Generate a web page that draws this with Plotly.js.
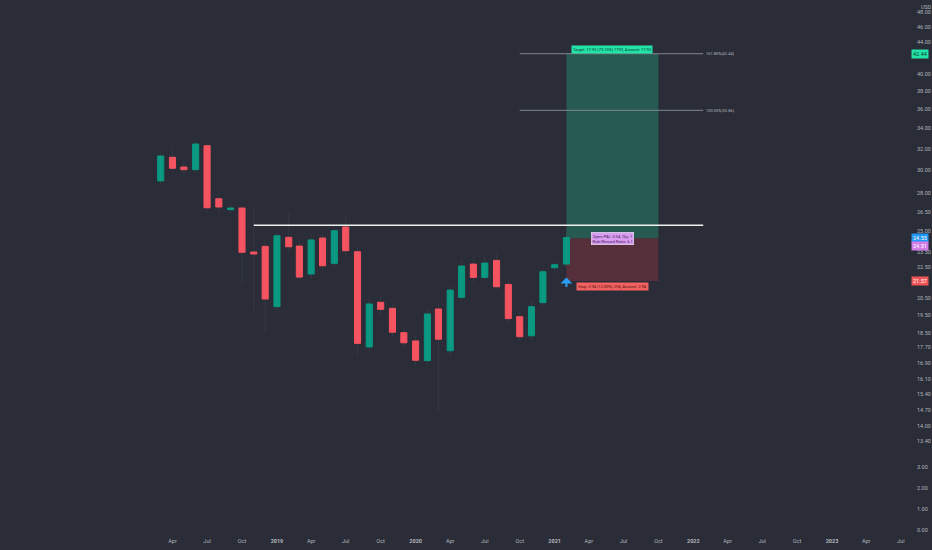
<!DOCTYPE html>
<html>
<head>
<meta charset="utf-8">
<script src="https://cdn.plot.ly/plotly-3.0.1.min.js"></script>
<style>
  html, body { margin: 0; padding: 0; background: #2a2d37; }
  #chart { width: 932px; height: 550px; }
</style>
</head>
<body>
<div id="chart"></div>
<script>
// monthly candles
const months = [
    "2018-03-01", "2018-04-01", "2018-05-01", "2018-06-01", "2018-07-01", "2018-08-01",
    "2018-09-01", "2018-10-01", "2018-11-01", "2018-12-01", "2019-01-01", "2019-02-01",
    "2019-03-01", "2019-04-01", "2019-05-01", "2019-06-01", "2019-07-01", "2019-08-01",
    "2019-09-01", "2019-10-01", "2019-11-01", "2019-12-01", "2020-01-01", "2020-02-01",
    "2020-03-01", "2020-04-01", "2020-05-01", "2020-06-01", "2020-07-01", "2020-08-01",
    "2020-09-01", "2020-10-01", "2020-11-01", "2020-12-01", "2021-01-01", "2021-02-01",
];
const open = [
    29.06, 31.18, 30.29, 30.05, 32.28, 27.56, 26.68, 26.81, 23.52, 23.92, 19.99, 24.57,
    23.94, 22.03, 24.52, 22.74, 25.34, 23.54, 17.73, 20.25, 19.89, 18.5, 18.05, 17.02,
    19.85, 17.53, 20.55, 22.69, 21.81, 22.94, 21.36, 19.4, 18.33, 20.23, 22.45, 22.69,
];
const high = [
    31.6, 31.9, 30.8, 33.0, 32.6, 27.9, 27.2, 27.0, 27.05, 24.3, 25.0, 26.42,
    24.3, 24.8, 24.8, 25.3, 26.27, 23.8, 20.6, 20.6, 20.2, 18.8, 18.4, 19.9,
    20.3, 21.3, 23.0, 23.3, 23.2, 23.4, 21.6, 19.8, 20.3, 22.4, 22.9, 24.9,
];
const low = [
    28.8, 29.9, 29.6, 29.9, 26.5, 26.5, 26.3, 21.3, 19.69, 18.55, 19.7, 23.6,
    21.5, 21.7, 22.2, 22.4, 23.3, 17.31, 17.5, 19.5, 18.3, 17.7, 16.8, 16.8,
    14.6, 17.2, 20.3, 21.5, 21.5, 21.0, 19.0, 18.0, 18.1, 20.0, 22.1, 22.5,
];
const close = [
    31.3, 30.18, 30.05, 32.44, 26.83, 26.89, 26.81, 23.5, 23.38, 20.45, 24.69, 23.89,
    21.83, 24.38, 22.58, 25.06, 23.61, 17.92, 20.15, 19.83, 18.52, 17.95, 17.04, 19.56,
    18.14, 21.0, 22.56, 21.81, 22.76, 21.21, 19.29, 18.28, 19.99, 22.18, 22.65, 24.55,
];

// drawings
const resistance = 25.47;
const resistanceFrom = "2018-11-01";
const drawingsTo = "2022-01-27";
const entryPrice = 24.51;
const targetPrice = 42.44;
const stopPrice = 21.57;
const lastPrice = 24.55;
const fibFrom = "2020-10-01";
const fibLevels = [42.44, 35.86];
const fibLabels = ["161.80%(42.44)", "100.00%(35.86)"];
const positionFrom = "2021-02-01";
const positionTo = "2021-10-01";
const positionMid = "2021-06-01";

// axis ticks
const priceTicks = [48, 46, 44, 40, 38, 36, 34, 32, 30, 28, 26.5, 25, 23.5, 22.5,
    20.5, 19.5, 18.5, 17.7, 16.9, 16.1, 15.4, 14.7, 14, 13.4];
const squeezedTicks = [12.41, 11.66, 10.94, 10.28];
const squeezedLabels = ["3.00", "2.00", "1.00", "0.00"];
const timeTicks = [
    "2018-04-01", "2018-07-01", "2018-10-01", "2019-01-01", "2019-04-01", "2019-07-01",
    "2019-10-01", "2020-01-01", "2020-04-01", "2020-07-01", "2020-10-01", "2021-01-01",
    "2021-04-01", "2021-07-01", "2021-10-01", "2022-01-01", "2022-04-01", "2022-07-01",
    "2022-10-01", "2023-01-01", "2023-04-01", "2023-07-01",
];
const timeLabels = [
    "Apr", "Jul", "Oct", "2019", "Apr", "Jul", "Oct", "2020", "Apr", "Jul", "Oct", "2021",
    "Apr", "Jul", "Oct", "2022", "Apr", "Jul", "Oct", "2023", "Apr", "Jul",
];

const UP = "#089981";
const DOWN = "#f7525f";
const BG = "#2a2d37";
const TEXT = "#b2b5be";

function wickTrace() {
    const x = [];
    const y = [];
    for (let i = 0; i < months.length; i++) {
        x.push(months[i], months[i], null);
        y.push(low[i], high[i], null);
    }
    return {
        type: "scatter",
        mode: "lines",
        x: x,
        y: y,
        line: { color: "rgba(150,155,170,0.1)", width: 1 },
        hoverinfo: "skip",
    };
}

function bodyTrace() {
    return {
        type: "candlestick",
        x: months,
        open: open,
        close: close,
        high: months.map((_, i) => Math.max(open[i], close[i])),
        low: months.map((_, i) => Math.min(open[i], close[i])),
        increasing: { line: { color: UP, width: 1 }, fillcolor: UP },
        decreasing: { line: { color: DOWN, width: 1 }, fillcolor: DOWN },
        whiskerwidth: 0,
    };
}

function priceLabel(value, bg, color, shift) {
    return {
        xref: "paper", yref: "y",
        x: 1, xanchor: "left", xshift: 3,
        y: Math.log10(value), yanchor: "middle", yshift: shift || 0,
        text: value.toFixed(2),
        showarrow: false,
        bgcolor: bg,
        borderpad: 1,
        font: { family: "Roboto", size: 5.5, color: color },
    };
}

const shapes = [
    // position zones
    {
        type: "rect", xref: "x", yref: "y", layer: "below",
        x0: positionFrom, x1: positionTo, y0: entryPrice, y1: targetPrice,
        fillcolor: "rgba(34,196,140,0.3)", line: { width: 0 },
    },
    {
        type: "rect", xref: "x", yref: "y", layer: "below",
        x0: positionFrom, x1: positionTo, y0: stopPrice, y1: entryPrice,
        fillcolor: "rgba(242,54,69,0.22)", line: { width: 0 },
    },
    {
        type: "line", xref: "x", yref: "y",
        x0: resistanceFrom, x1: drawingsTo, y0: resistance, y1: resistance,
        line: { color: "#f0f0f0", width: 1.5 },
    },
];
for (const level of fibLevels) {
    shapes.push({
        type: "line", xref: "x", yref: "y",
        x0: fibFrom, x1: drawingsTo, y0: level, y1: level,
        line: { color: "rgba(140,143,155,0.9)", width: 1 },
    });
}

const annotations = [
    {
        xref: "paper", yref: "paper", x: 1, y: 1, xanchor: "left", yanchor: "top",
        xshift: 11, yshift: -2, text: "USD", showarrow: false,
        font: { family: "Roboto", size: 5.5, color: TEXT },
    },
    {
        x: positionMid, y: Math.log10(targetPrice), yanchor: "bottom", yshift: 0,
        text: "Target: 17.93 (73.15%) 1793, Amount: 17.93",
        showarrow: false, bgcolor: "#22e3a8", borderpad: 1,
        font: { family: "Roboto", size: 4, color: "#10352c" },
    },
    {
        x: positionMid, y: Math.log10(entryPrice), yanchor: "middle",
        text: "Open P&L: 0.04, Qty: 1<br>Risk/Reward Ratio: 6.1",
        showarrow: false, bgcolor: "#d89ef0", bordercolor: "#f4e6fa", borderwidth: 0.6,
        borderpad: 1, align: "center",
        font: { family: "Roboto", size: 4, color: "#4a1d5c" },
    },
    {
        x: positionMid, y: Math.log10(stopPrice), yanchor: "top", yshift: -0.5,
        text: "Stop: 2.94 (12.00%) 294, Amount: 2.94",
        showarrow: false, bgcolor: "#f2615f", borderpad: 1,
        font: { family: "Roboto", size: 4, color: "#4a1414" },
    },
    {
        x: positionFrom, y: Math.log10(21.8), ax: 0, ay: 11,
        text: "", showarrow: true, arrowhead: 1, arrowsize: 1,
        arrowwidth: 2, arrowcolor: "#2a9df4",
    },
    priceLabel(targetPrice, "#22e3a8", "#123d31"),
    priceLabel(lastPrice, "#2196f3", "#ffffff", 0),
    priceLabel(entryPrice, "#d27ce8", "#ffffff", -7.5),
    priceLabel(stopPrice, "#f05454", "#ffffff"),
];
fibLevels.forEach((level, i) => {
    annotations.push({
        x: drawingsTo, y: Math.log10(level), xanchor: "left", yanchor: "middle",
        xshift: 1, text: fibLabels[i], showarrow: false,
        font: { family: "Roboto", size: 4, color: TEXT },
    });
});

const layout = {
    width: 932,
    height: 550,
    paper_bgcolor: BG,
    plot_bgcolor: BG,
    margin: { l: 0, r: 24, t: 0, b: 14 },
    showlegend: false,
    dragmode: false,
    boxgap: 0.18,
    font: { family: "Roboto", color: TEXT },
    xaxis: {
        type: "date",
        range: ["2017-01-02", "2023-07-20"],
        rangeslider: { visible: false },
        showgrid: false,
        zeroline: false,
        showline: false,
        ticks: "",
        tickmode: "array",
        tickvals: timeTicks,
        ticktext: timeLabels.map((t) => (/^\d{4}$/.test(t) ? "<b>" + t + "</b>" : t)),
        tickfont: { family: "Roboto", size: 5.5, color: TEXT },
        ticklabelstandoff: 0,
    },
    yaxis: {
        type: "log",
        side: "right",
        range: [Math.log10(10.1), Math.log10(49.8)],
        showgrid: false,
        zeroline: false,
        showline: false,
        ticks: "",
        tickmode: "array",
        tickvals: priceTicks.concat(squeezedTicks),
        ticktext: priceTicks.map((v) => v.toFixed(2)).concat(squeezedLabels),
        tickfont: { family: "Roboto", size: 5.5, color: TEXT },
        ticklabelstandoff: 8,
    },
    shapes: shapes,
    annotations: annotations,
};

Plotly.newPlot("chart", [wickTrace(), bodyTrace()], layout, { displayModeBar: false, staticPlot: true });
</script>
</body>
</html>
